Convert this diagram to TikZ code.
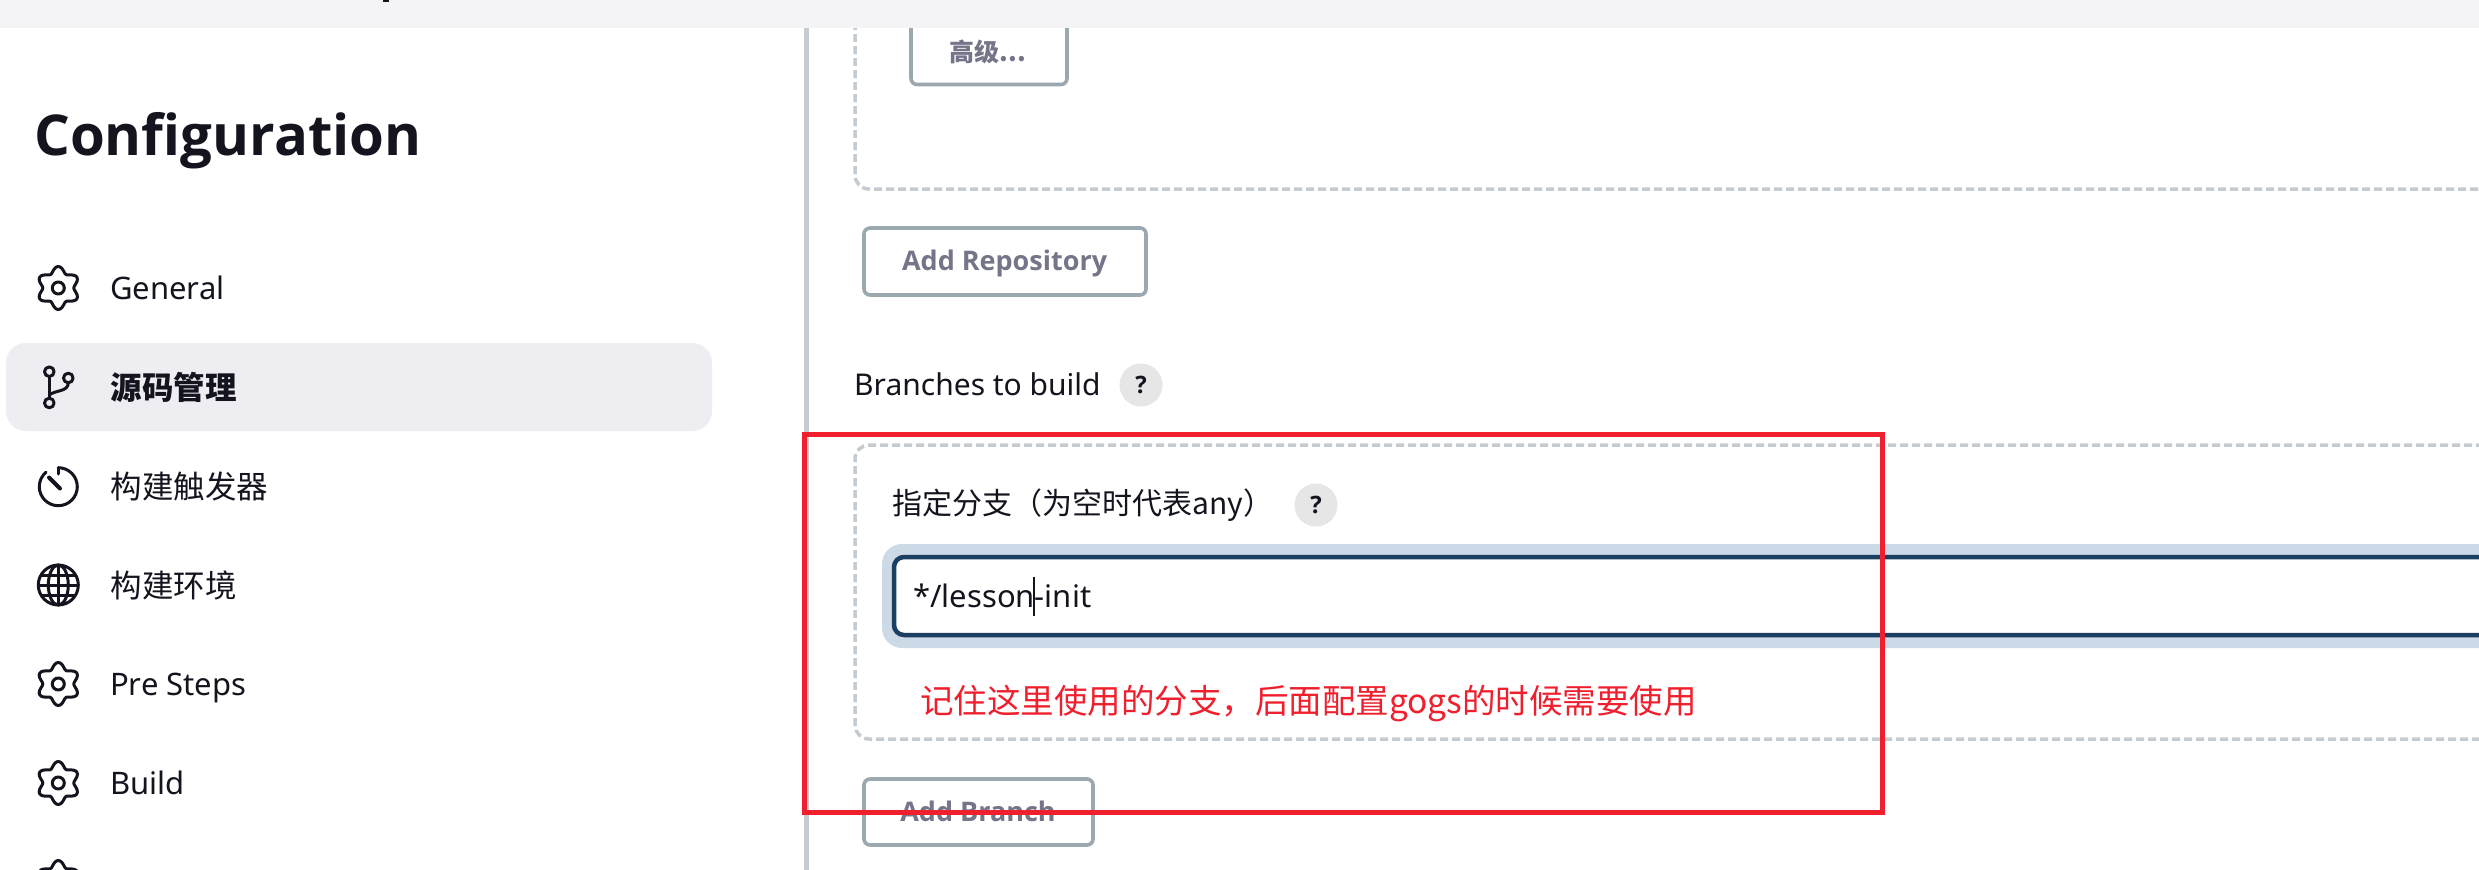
\documentclass[tikz,border=0pt]{standalone}
\usepackage{fontspec}
\setmainfont{Noto Sans}
\newfontfamily\cjk{Noto Sans CJK SC}
\newfontfamily\heavy{Open Sans}[FakeBold=0]
\usepackage{xcolor}
\usepackage{tikz}
\usetikzlibrary{calc,positioning}
\definecolor{inkdark}{HTML}{14141F}
\definecolor{inkgrey}{HTML}{75758A}
\definecolor{barfill}{HTML}{F4F4F6}
\definecolor{activefill}{HTML}{EDEDF2}
\definecolor{divider}{HTML}{C5CCD1}
\definecolor{btnline}{HTML}{9CA8B0}
\definecolor{helpfill}{HTML}{E6E6E6}
\definecolor{ringfill}{HTML}{CCD9E6}
\definecolor{inputline}{HTML}{1A3F60}
\definecolor{markred}{HTML}{EF1F2D}
\tikzset{
	sidetext/.style={anchor=base west,inner sep=0,text=inkdark,font=\fontsize{31}{36}\selectfont},
	sidecjk/.style={anchor=base west,inner sep=0,text=inkdark,font=\cjk\fontsize{31.5}{36}\selectfont},
	btnbox/.style={draw=btnline,line width=3.6pt,fill=white,rounded corners=6pt},
	btntext/.style={inner sep=0,text=inkgrey,font=\heavy\bfseries\fontsize{27}{30}\selectfont},
	dashbox/.style={draw=divider,line width=3.5pt,dash pattern=on 8pt off 4pt,rounded corners=14pt},
	helpdot/.style={circle,fill=helpfill,minimum size=43pt,inner sep=0,text=inkdark,font=\heavy\bfseries\fontsize{24}{28}\selectfont},
	icon/.style={draw=inkdark,line width=3pt,line cap=round,line join=round},
	gearicon/.pic={
		\draw[icon] plot[domain=0:360,samples=73,smooth cycle]
			({(18.5-3*cos(6*\x))*cos(\x)},{(18.5-3*cos(6*\x))*sin(\x)});
		\draw[icon] (0,0) circle[radius=6pt];
	},
}
\begin{document}
\begin{tikzpicture}[x=1pt,y=-1pt]
	\useasboundingbox (0,0) rectangle (2479,870);
	\clip (0,0) rectangle (2479,870);
	\fill[white] (0,0) rectangle (2479,870);

	% left menu
	\fill[activefill,rounded corners=20pt] (6,343) rectangle (712,431);
	\node[anchor=base west,inner sep=0,text=inkdark,font=\heavy\bfseries\fontsize{56.3}{64}\selectfont] (title) at (34,155) {Configuration};

	\pic at (58.3,288) {gearicon};
	\node[sidetext] (general) at (110,299) {General};

	\draw[icon] (49.3,371.7) circle[radius=4.8pt];
	\draw[icon] (49.3,403) circle[radius=4.8pt];
	\draw[icon] (68.3,378) circle[radius=4.8pt];
	\draw[icon] (49.3,376.5) -- (49.3,398.2);
	\draw[icon] (68.3,382.8) .. controls (68.3,392) and (55,390) .. (49.3,395);
	\node[sidecjk,font=\cjk\bfseries\fontsize{31.5}{36}\selectfont] (scm) at (110.5,399) {源码管理};

	\draw[icon] (58.3,467.7) arc[start angle=90,end angle=-230,radius=19pt];
	\draw[icon] (58.3,467.7) -- (58.3,474);
	\draw[icon,line width=4pt] (49,477.5) -- (60,488.5);
	\node[sidecjk] (trigger) at (110.5,498) {构建触发器};

	\draw[icon] (58.3,585) circle[radius=20pt];
	\draw[icon] (58.3,585) ellipse[x radius=10pt,y radius=20pt];
	\draw[icon] (58.3,565) -- (58.3,605);
	\draw[icon] (39,585) -- (77.6,585);
	\draw[icon] (42,575) -- (74.6,575);
	\draw[icon] (42,595) -- (74.6,595);
	\node[sidecjk] (env) at (110.5,597.5) {构建环境};

	\pic at (58.3,684) {gearicon};
	\node[sidetext] (pre) at (110,695) {Pre Steps};
	\pic at (58.3,783) {gearicon};
	\node[sidetext] (build) at (110,794) {Build};
	\pic at (58.3,882) {gearicon};

	% right panel
	\draw[divider,line width=4.5pt] (806.5,20) -- (806.5,880);
	\draw[dashbox] (855,10) -- (855,189) -- (2520,189);
	\draw[btnbox] (911,10) rectangle (1067,84.5);
	\node[btntext,font=\cjk\bfseries\fontsize{25}{30}\selectfont] (adv) at (988,52) {高级...};
	\draw[btnbox] (864,228) rectangle (1146,295);
	\node[btntext] (addrepo) at (1004.6,263) {Add Repository};

	\node[anchor=base west,inner sep=0,text=inkdark,font=\fontsize{30}{36}\selectfont] (branches) at (854,395) {Branches to build};
	\node[helpdot] (helpa) at (1141,385) {?};

	\draw[dashbox] (2520,445) -- (855,445) -- (855,739) -- (2520,739);
	\node[anchor=west,inner sep=0,text=inkdark,font=\cjk\fontsize{30}{36}\selectfont] (spec) at (892,505) {指定分支（为空时代表any）};
	\node[helpdot] (helpb) at (1316,505) {?};

	\fill[ringfill,rounded corners=20pt] (882,544) rectangle (2520,648);
	\draw[inputline,fill=white,line width=4.5pt,rounded corners=10pt] (894,557) rectangle (2520,635);
	\node[anchor=base west,inner sep=0,text=inkdark,font=\fontsize{31}{36}\selectfont] (value) at (913,607) {*/lesson-init};
	\draw[inkdark,line width=1.2pt] (1034,577) -- (1034,616);

	\node[anchor=base west,inner sep=0,text=markred,font=\cjk\fontsize{33.5}{38}\selectfont] (note) at (920,713) {记住这里使用的分支，后面配置gogs的时候需要使用};

	\draw[btnbox] (864,779) rectangle (1093,845);
	\node[btntext] (addbranch) at (978,811) {Add Branch};

	% mark and top bar
	\draw[markred,line width=5pt] (804,434) rectangle (1882,812);
	\fill[barfill] (0,0) rectangle (2479,28);
	\fill[inkdark] (383,0) rectangle (389,1.5);
\end{tikzpicture}
\end{document}
